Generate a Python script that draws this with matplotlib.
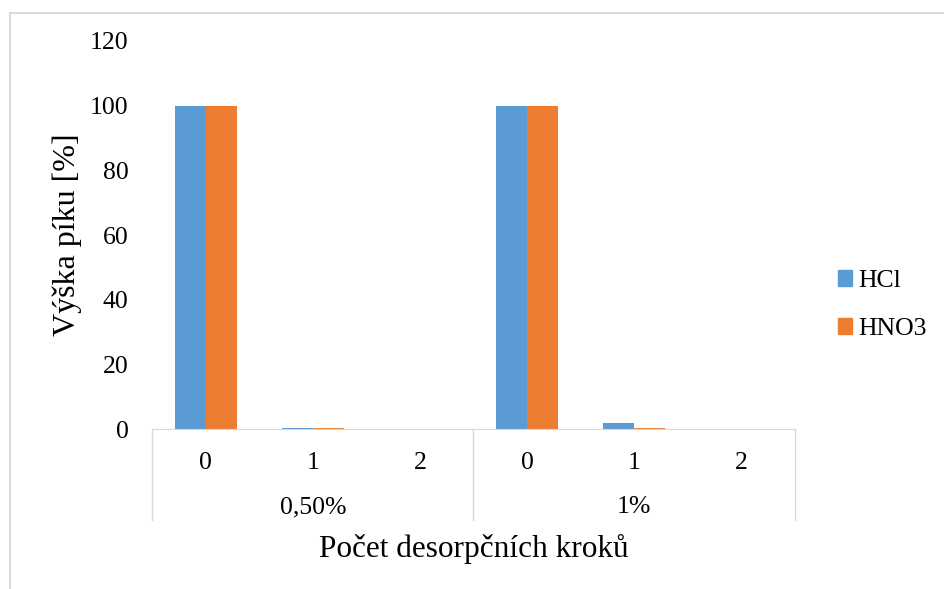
import matplotlib
matplotlib.use('Agg')
import matplotlib.pyplot as plt
from matplotlib.patches import Rectangle, Patch

plt.rcParams['font.family'] = ['Liberation Serif', 'DejaVu Serif']

# data
steps = ['0', '1', '2', '0', '1', '2']
groups = ['0,50%', '1%']
hcl = [100, 0.4, 0.0, 100, 2.0, 0.0]
hno3 = [100, 0.4, 0.0, 100, 0.2, 0.0]

blue = '#5B9BD5'
orange = '#ED7D31'
grey = '#D9D9D9'

fig = plt.figure(figsize=(9.45, 5.89), dpi=100)
ax = fig.add_axes([0.161, 0.2716, 0.680, 0.6588])

x = range(len(steps))
w = 0.29
ax.bar([i - w / 2 for i in x], hcl, w, color=blue, label='HCl')
ax.bar([i + w / 2 for i in x], hno3, w, color=orange, label='HNO3')

ax.set_xlim(-0.5, len(steps) - 0.5)
ax.set_ylim(0, 120)
ax.set_yticks(range(0, 121, 20))
ax.tick_params(axis='y', length=0, pad=17, labelsize=18.5)
ax.set_xticks([])
for s in ['top', 'right', 'left']:
    ax.spines[s].set_visible(False)
ax.spines['bottom'].set_color(grey)

trans = ax.get_xaxis_transform()
for i, s in enumerate(steps):
    ax.text(i, -0.088, s, transform=trans, ha='center', va='center', fontsize=18.5)
for j, g in enumerate(groups):
    ax.text(j * 3 + 1, -0.201, g, transform=trans, ha='center', va='center', fontsize=18.5)
for xs in [-0.5, 2.5, 5.5]:
    ax.plot([xs, xs], [0, -0.235], transform=trans, color=grey, lw=1, clip_on=False)

ax.set_ylabel('Výška píku [%]', fontsize=23, labelpad=6)
ax.text(2.5, -0.309, 'Počet desorpčních kroků', transform=trans, ha='center', va='center', fontsize=22.5)

handles = [Patch(color=blue, label='HCl'), Patch(color=orange, label='HNO3')]
fig.legend(handles=handles, loc='center left', bbox_to_anchor=(0.862, 0.482), frameon=False,
           fontsize=18.5, handlelength=0.56, handleheight=0.56, handletextpad=0.25, labelspacing=1.0)

fig.patches.append(Rectangle((10 / 945, -0.1), 1.2, 1 - 13 / 589 + 0.1, transform=fig.transFigure,
                             fill=False, edgecolor=grey, lw=1.5))

fig.savefig('out.png', dpi=100)
